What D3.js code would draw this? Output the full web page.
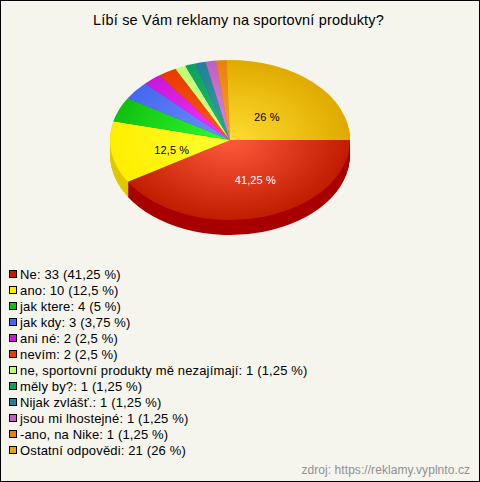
<!DOCTYPE html>
<html><head><meta charset="utf-8">
<script src="https://cdn.jsdelivr.net/npm/d3@7"></script>
<style>html,body{margin:0;padding:0;background:#f5f5ee}svg{display:block}text{font-family:"Liberation Sans",Arial,sans-serif}</style>
</head><body><script>
const titleText = "Líbí se Vám reklamy na sportovní produkty?";
const sourceText = "zdroj: https://reklamy.vyplnto.cz";
const categories = ["Ne","ano","jak ktere","jak kdy","ani né","nevím","ne, sportovní produkty mě nezajímají","měly by?","Nijak zvlášť.","jsou mi lhostejné","-ano, na Nike","Ostatní odpovědi"];
const counts = [33,10,4,3,2,2,1,1,1,1,1,21];
const percents = ["41,25","12,5","5","3,75","2,5","2,5","1,25","1,25","1,25","1,25","1,25","26"];
// slice sizes: the source draws the one-answer slices slightly wider than their share
const sliceSizes = [33,10,4,3,2,2,1.13,1.13,1.13,1.13,1.13,20.35];
const edgeColors = ["#c01c00","#ffee00","#10c010","#4468f0","#c818d8","#e83c00","#c0ff70","#0f9f60","#208098","#c060c0","#e88010","#e0aa00"];
const centerColors = ["#ff5a3c","#ffff30","#30ff30","#7090ff","#ff30ff","#ff5818","#d8ff90","#20c070","#40a0a0","#d888e0","#ffa020","#ffdd30"];
const sideColors = ["#a80000","#e0c800","#0c9a0c","#3450c0","#a010b0","#b83000","#98cc58","#0c804c","#186678","#984c98","#b86408","#b08800"];
const labelled = [0,1,11];
const W=480,H=482,cx=230,cy=140,rx=120,ry=80,depth=15;
const labelNudge={0:[9,2],1:[1,4],11:[-5,6]};
const svg=d3.select("body").append("svg").attr("width",W).attr("height",H);
svg.append("rect").attr("x",.5).attr("y",.5).attr("width",W-1).attr("height",H-1).attr("fill","#f5f5ee").attr("stroke","#000");
svg.append("text").attr("x",238.5).attr("y",25).attr("text-anchor","middle").attr("font-size",14.5).attr("letter-spacing",.17).text(titleText);

const pie=d3.pie().sort(null).startAngle(Math.PI/2).endAngle(Math.PI/2+2*Math.PI);
const arcs=pie(sliceSizes);
const arc=d3.arc().innerRadius(0).outerRadius(rx);
const defs=svg.append("defs");
edgeColors.forEach((c,i)=>{
  const g=defs.append("radialGradient").attr("id","g"+i).attr("gradientUnits","userSpaceOnUse").attr("cx",0).attr("cy",0).attr("r",rx);
  g.append("stop").attr("offset",0).attr("stop-color",centerColors[i]);
  g.append("stop").attr("offset",1).attr("stop-color",c);
});
const sy=ry/rx;
const side=svg.append("g");
d3.range(depth,0,-1).forEach(dy=>{
  side.append("g").attr("transform",`translate(${cx},${cy+dy}) scale(1,${sy})`)
    .selectAll("path").data(arcs).join("path").attr("d",arc).attr("fill",(d,i)=>sideColors[i]);
});
svg.append("g").attr("transform",`translate(${cx},${cy}) scale(1,${sy})`)
  .selectAll("path").data(arcs).join("path").attr("d",arc).attr("fill",(d,i)=>`url(#g${i})`);
const lab=d3.arc().innerRadius(rx*.5).outerRadius(rx*.5);
labelled.forEach(i=>{
  const [x,y]=lab.centroid(arcs[i]);
  svg.append("text").attr("x",cx+x+labelNudge[i][0]).attr("y",cy+y*sy+4+labelNudge[i][1]).attr("text-anchor","middle").attr("font-size",11).attr("letter-spacing",.1)
    .attr("fill",i===0?"#fff":"#000").text(percents[i]+" %");
});
const legendY=d3.scalePoint().domain(d3.range(categories.length)).range([274,450]);
const row=svg.append("g").selectAll("g").data(categories).join("g").attr("transform",(d,i)=>`translate(0,${legendY(i)})`);
row.append("rect").attr("x",9.5).attr("y",-3.5).attr("width",7).attr("height",7).attr("fill",(d,i)=>edgeColors[i]).attr("stroke","#000");
row.append("text").attr("x",20).attr("y",5).attr("font-size",13).attr("letter-spacing",.15).text((d,i)=>`${d}: ${counts[i]} (${percents[i]} %)`);
svg.append("text").attr("x",470).attr("y",474).attr("text-anchor","end").attr("font-size",12).attr("letter-spacing",.06).attr("fill","#909090").text(sourceText);
</script></body></html>
